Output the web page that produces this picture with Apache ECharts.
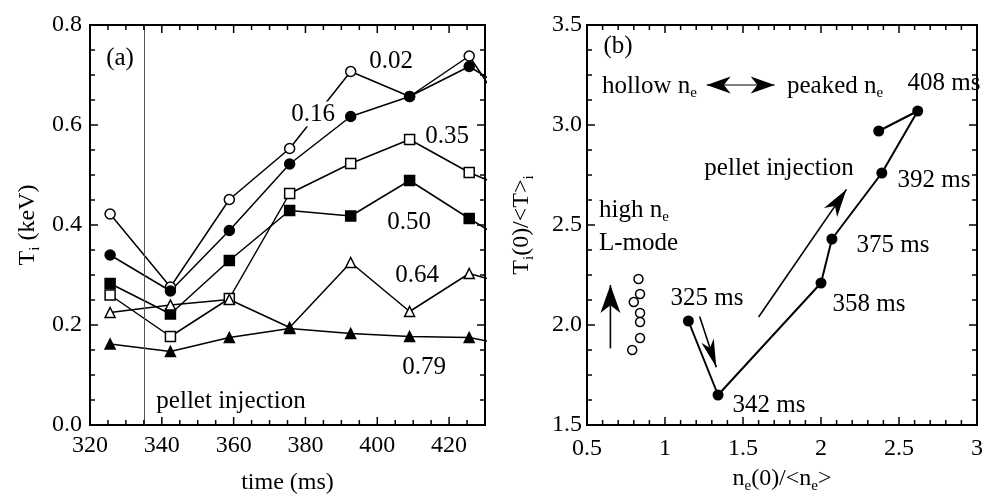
<!DOCTYPE html>
<html lang="en">
<head>
<meta charset="UTF-8">
<title>Ti evolution after pellet injection</title>
<script src="https://cdn.jsdelivr.net/npm/echarts@6/dist/echarts.min.js"></script>
<style>
    html, body { margin: 0; padding: 0; background: #fff; }
    #chart { width: 994px; height: 494px; }
</style>
</head>
<body>
<div id="chart"></div>
<script>
    // (a) ion temperature vs time, one series per normalised radius
    const times = [325.6, 342.4, 358.8, 375.6, 392.6, 409, 425.6, 432];
    const ti002 = [0.422, 0.276, 0.451, 0.553, 0.707, 0.657, 0.738, 0.669];
    const ti016 = [0.340, 0.268, 0.389, 0.522, 0.617, 0.657, 0.717, 0.689];
    const ti035 = [0.260, 0.177, 0.253, 0.463, 0.523, 0.571, 0.505, 0.486];
    const ti050 = [0.283, 0.222, 0.329, 0.429, 0.418, 0.489, 0.413, 0.385];
    const ti064 = [0.225, 0.240, 0.251, 0.195, 0.325, 0.227, 0.303, 0.290];
    const ti079 = [0.162, 0.147, 0.175, 0.193, 0.183, 0.177, 0.175, 0.166];
    const pelletTime = 335;

    // (b) Ti peaking vs ne peaking
    const peakNe = [1.15, 1.34, 2.00, 2.07, 2.39, 2.62, 2.37];
    const peakTi = [2.02, 1.65, 2.21, 2.43, 2.76, 3.07, 2.97];
    const lmodeNe = [0.83, 0.84, 0.80, 0.84, 0.84, 0.84, 0.79];
    const lmodeTi = [2.23, 2.155, 2.115, 2.06, 2.015, 1.935, 1.875];
    // annotation arrows: x1, y1, x2(tip), y2(tip), double-headed
    const arrowsB = [
        [1.267, 3.20, 1.703, 3.20, 1],
        [1.60, 2.04, 2.163, 2.678, 0],
        [1.222, 2.042, 1.329, 1.789, 0],
        [0.65, 1.883, 0.65, 2.20, 0]
    ];
    const headSizes = [[24, 17], [28, 16], [28, 13], [28, 20]];

    // axis ranges: min, max, major step, minor step
    const axA_x = [320, 430, 20, 5];
    const axA_y = [0, 0.8, 0.2, 0.05];
    const axB_x = [0.5, 3, 0.5, 0.1];
    const axB_y = [1.5, 3.5, 0.5, 0.125];

    const font = 'Liberation Serif';
    const black = '#000';

    const chart = echarts.init(document.getElementById('chart'));

    function zip(xs, ys) {
        return xs.map((x, i) => [x, ys[i]]);
    }

    // tick positions for the inward ticks on all four sides of a box
    function tickItems(ax, ay) {
        const items = [];
        const add = function (a, kind) {
            const n = Math.round((a[1] - a[0]) / a[3]);
            for (let i = 1; i < n; i++) {
                const v = a[0] + i * a[3];
                const k = (v - a[0]) / a[2];
                const major = Math.abs(k - Math.round(k)) < 1e-6 ? 1 : 0;
                items.push(kind === 0 ? [v, ay[0], 0, major] : [ax[0], v, 1, major]);
            }
        };
        add(ax, 0);
        add(ay, 1);
        return items;
    }

    function renderTick(params, api) {
        const cs = params.coordSys;
        const p = api.coord([api.value(0), api.value(1)]);
        const len = api.value(3) ? 8 : 5;
        const st = { stroke: black, lineWidth: 1.5 };
        if (api.value(2) === 0) {
            const bottom = cs.y + cs.height;
            return { type: 'group', children: [
                { type: 'line', shape: { x1: p[0], y1: bottom, x2: p[0], y2: bottom - len }, style: st },
                { type: 'line', shape: { x1: p[0], y1: cs.y, x2: p[0], y2: cs.y + len }, style: st }
            ] };
        }
        const right = cs.x + cs.width;
        return { type: 'group', children: [
            { type: 'line', shape: { x1: cs.x, y1: p[1], x2: cs.x + len, y2: p[1] }, style: st },
            { type: 'line', shape: { x1: right, y1: p[1], x2: right - len, y2: p[1] }, style: st }
        ] };
    }

    function axis(gridIndex, range, extra) {
        return Object.assign({
            type: 'value',
            gridIndex: gridIndex,
            min: range[0],
            max: range[1],
            interval: range[2],
            axisLine: { show: false },
            axisTick: { show: false },
            minorTick: { show: false },
            splitLine: { show: false }
        }, extra);
    }

    const nameRich = {
        m: { fontFamily: font, fontSize: 24, color: black, lineHeight: 30 },
        s: { fontFamily: font, fontSize: 15, color: black, lineHeight: 3, verticalAlign: 'bottom' }
    };

    function renderArrow(params, api) {
        const a = api.coord([api.value(0), api.value(1)]);
        const b = api.coord([api.value(2), api.value(3)]);
        const both = api.value(4) === 1;
        const len = headSizes[params.dataIndex][0];
        const wid = headSizes[params.dataIndex][1];
        const head = function (tip, from) {
            const dx = tip[0] - from[0], dy = tip[1] - from[1];
            const d = Math.hypot(dx, dy);
            const ux = dx / d, uy = dy / d, nx = -uy, ny = ux;
            const bx = tip[0] - ux * len, by = tip[1] - uy * len;
            return {
                type: 'polygon',
                shape: { points: [
                    tip,
                    [bx + nx * wid / 2, by + ny * wid / 2],
                    [tip[0] - ux * len * 0.72, tip[1] - uy * len * 0.72],
                    [bx - nx * wid / 2, by - ny * wid / 2]
                ] },
                style: { fill: black }
            };
        };
        const children = [{
            type: 'line',
            shape: { x1: a[0], y1: a[1], x2: b[0], y2: b[1] },
            style: { stroke: black, lineWidth: both ? 1 : 1.6 }
        }, head(b, a)];
        if (both) children.push(head(a, b));
        return { type: 'group', children: children };
    }

    function tiSeries(values, symbol, filled) {
        return {
            type: 'line',
            xAxisIndex: 0,
            yAxisIndex: 0,
            data: zip(times, values),
            symbol: symbol,
            symbolSize: 10,
            showAllSymbol: true,
            clip: true,
            lineStyle: { color: black, width: 1.5 },
            itemStyle: { color: filled ? black : '#fff', borderColor: black, borderWidth: 1.5 }
        };
    }

    function txt(x, y, text, align, bg) {
        const style = {
            text: text,
            fontFamily: font,
            fontSize: 25,
            fill: black,
            align: align || 'center',
            verticalAlign: 'middle'
        };
        if (bg) {
            style.backgroundColor = '#fff';
            style.padding = [0, 2];
        }
        return { type: 'text', x: x, y: y, z: 100, style: style };
    }

    function subTxt(x, y, text) {
        return {
            type: 'text',
            x: x,
            y: y,
            z: 100,
            style: {
                text: text,
                rich: {
                    m: { fontFamily: font, fontSize: 25, fill: black, lineHeight: 30 },
                    s: { fontFamily: font, fontSize: 15, fill: black, lineHeight: 3, verticalAlign: 'bottom' }
                },
                align: 'left',
                verticalAlign: 'middle'
            }
        };
    }

    const tickLabel = { color: black, fontFamily: font, fontSize: 24 };
    const box = { show: true, borderColor: black, borderWidth: 2, backgroundColor: 'transparent', outerBoundsMode: 'none', containLabel: false };

    const option = {
        animation: false,
        backgroundColor: '#fff',
        grid: [
            Object.assign({ left: 90, top: 25, width: 395, height: 400 }, box),
            Object.assign({ left: 587, top: 25, width: 390, height: 400 }, box)
        ],
        xAxis: [
            axis(0, axA_x, {
                axisLabel: Object.assign({ margin: 9, showMaxLabel: false }, tickLabel),
                name: 'time (ms)',
                nameLocation: 'middle',
                nameGap: 46,
                nameTextStyle: { fontFamily: font, fontSize: 24, color: black }
            }),
            axis(1, axB_x, {
                axisLabel: Object.assign({ margin: 12 }, tickLabel),
                name: '{m|n}{s|e}{m|(0)/<n}{s|e}{m|>}',
                nameLocation: 'middle',
                nameGap: 39,
                nameTextStyle: { rich: nameRich }
            })
        ],
        yAxis: [
            axis(0, axA_y, {
                axisLabel: Object.assign({ margin: 8, formatter: v => v.toFixed(1) }, tickLabel),
                name: '{m|T}{s|i}{m| (keV)}',
                nameLocation: 'middle',
                nameRotate: 90,
                nameGap: 47,
                nameTextStyle: { rich: nameRich }
            }),
            axis(1, axB_y, {
                axisLabel: Object.assign({ margin: 5, formatter: v => v.toFixed(1) }, tickLabel),
                name: '{m|T}{s|i}{m|(0)/<T>}{s|i}',
                nameLocation: 'middle',
                nameRotate: 90,
                nameGap: 50,
                nameTextStyle: { rich: nameRich }
            })
        ],
        series: [
            Object.assign(tiSeries(ti002, 'circle', false), {
                markLine: {
                    silent: true,
                    symbol: 'none',
                    label: { show: false },
                    lineStyle: { color: '#555', width: 1, type: 'solid' },
                    data: [{ xAxis: pelletTime }]
                }
            }),
            tiSeries(ti016, 'circle', true),
            tiSeries(ti035, 'rect', false),
            tiSeries(ti050, 'rect', true),
            tiSeries(ti064, 'triangle', false),
            tiSeries(ti079, 'triangle', true),
            {
                type: 'line',
                xAxisIndex: 1,
                yAxisIndex: 1,
                data: zip(peakNe, peakTi),
                symbol: 'circle',
                symbolSize: 11,
                lineStyle: { color: black, width: 2 },
                itemStyle: { color: black }
            },
            {
                type: 'scatter',
                xAxisIndex: 1,
                yAxisIndex: 1,
                data: zip(lmodeNe, lmodeTi),
                symbol: 'circle',
                symbolSize: 9,
                itemStyle: { color: '#fff', borderColor: black, borderWidth: 1.5, opacity: 1 }
            },
            {
                type: 'custom',
                xAxisIndex: 1,
                yAxisIndex: 1,
                clip: false,
                silent: true,
                renderItem: renderArrow,
                encode: { x: [0, 2], y: [1, 3] },
                data: arrowsB,
                z: 5
            },
            {
                type: 'custom',
                xAxisIndex: 0,
                yAxisIndex: 0,
                clip: false,
                silent: true,
                renderItem: renderTick,
                encode: { x: 0, y: 1 },
                data: tickItems(axA_x, axA_y),
                z: 6
            },
            {
                type: 'custom',
                xAxisIndex: 1,
                yAxisIndex: 1,
                clip: false,
                silent: true,
                renderItem: renderTick,
                encode: { x: 0, y: 1 },
                data: tickItems(axB_x, axB_y),
                z: 6
            }
        ],
        graphic: [
            // panel (a)
            txt(120, 58, '(a)'),
            txt(391, 61, '0.02'),
            txt(313, 114, '0.16', 'center', true),
            txt(447, 136, '0.35'),
            txt(409, 222, '0.50'),
            txt(417, 275, '0.64'),
            txt(424, 367, '0.79'),
            txt(231, 401, 'pellet injection'),
            // panel (b)
            txt(618, 46, '(b)'),
            subTxt(602, 86, '{m|hollow n}{s|e}'),
            subTxt(787, 86, '{m|peaked n}{s|e}'),
            txt(944, 83, '408 ms'),
            txt(779, 168, 'pellet injection'),
            txt(934, 180, '392 ms'),
            subTxt(599, 210, '{m|high n}{s|e}'),
            txt(599, 243, 'L-mode', 'left'),
            txt(893, 245, '375 ms'),
            txt(869, 304, '358 ms'),
            txt(707, 298, '325 ms'),
            txt(769, 405, '342 ms')
        ]
    };

    chart.setOption(option);
</script>
</body>
</html>
